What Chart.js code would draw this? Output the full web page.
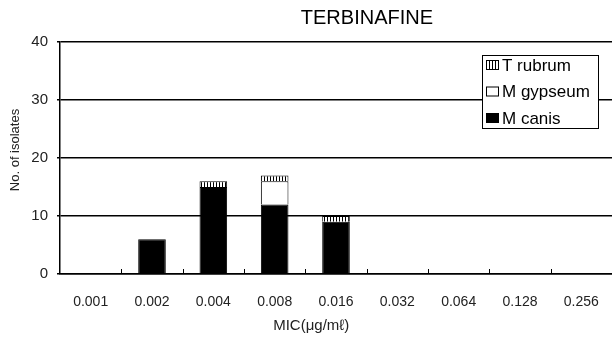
<!DOCTYPE html>
<html>
<head>
<meta charset="utf-8">
<script src="https://cdn.jsdelivr.net/npm/chart.js@4"></script>
<style>
  html, body { margin: 0; padding: 0; background: #fff; }
  #wrap { width: 612px; height: 343px; }
</style>
</head>
<body>
<div id="wrap"><canvas id="chart" width="612" height="343"></canvas></div>
<script>
const micLabels = ["0.001", "0.002", "0.004", "0.008", "0.016", "0.032", "0.064", "0.128", "0.256"];
const mCanis = [0, 6, 15, 12, 9, 0, 0, 0, 0];
const mGypseum = [0, 0, 0, 4, 0, 0, 0, 0, 0];
const tRubrum = [0, 0, 1, 1, 1, 0, 0, 0, 0];
const yTicks = [0, 10, 20, 30, 40];

const FONT = "'Liberation Sans', Arial, sans-serif";

// vertical stripe fill used for T rubrum
function stripes() {
  var c = document.createElement("canvas");
  c.width = 3; c.height = 3;
  var g = c.getContext("2d");
  g.fillStyle = "#fff";
  g.fillRect(0, 0, 3, 3);
  g.fillStyle = "#000";
  g.fillRect(0, 0, 1, 3);
  return g.createPattern(c, "repeat");
}

var ctx = document.getElementById("chart").getContext("2d");
var rubrumFill = stripes();

// titles, small x ticks and the legend box inside the plot
var extras = {
  id: "extras",
  afterDraw: function (chart) {
    var g = chart.ctx, a = chart.chartArea, xs = chart.scales.x;
    g.save();
    g.fillStyle = "#000";
    g.textAlign = "center";
    g.textBaseline = "middle";
    g.font = "20px " + FONT;
    g.fillText("TERBINAFINE", a.left + a.width * 0.556, 18);

    g.fillStyle = "#222";
    g.font = "15px " + FONT;
    g.fillText("MIC(μg/mℓ)", a.left + a.width * 0.455, 326);
    g.save();
    g.translate(15, 150);
    g.rotate(-Math.PI / 2);
    g.font = "13px " + FONT;
    g.fillText("No. of isolates", 0, 0);
    g.restore();

    // short upward ticks between categories
    g.strokeStyle = "#000";
    g.lineWidth = 1;
    var half = (xs.getPixelForValue(1) - xs.getPixelForValue(0)) / 2;
    for (var i = 1; i < micLabels.length; i++) {
      var px = Math.round(xs.getPixelForValue(i) - half) + 0.5;
      g.beginPath();
      g.moveTo(px, a.bottom);
      g.lineTo(px, a.bottom - 5);
      g.stroke();
    }

    var x0 = a.right - 130, y0 = a.top + 13, w = 116, h = 73;
    g.fillStyle = "#fff";
    g.fillRect(x0, y0, w, h);
    g.strokeStyle = "#000";
    g.strokeRect(x0 + 0.5, y0 + 0.5, w, h);
    var items = chart.data.datasets.slice().reverse();
    g.font = "17px " + FONT;
    g.textAlign = "left";
    items.forEach(function (ds, i) {
      var cy = y0 + 10 + i * 26.5;
      g.fillStyle = ds.backgroundColor;
      g.fillRect(x0 + 4, cy - 5, 13, 10);
      g.strokeStyle = "#000";
      g.strokeRect(x0 + 4.5, cy - 4.5, 12, 9);
      g.fillStyle = "#000";
      g.fillText(ds.label, x0 + 20, cy + 1);
    });
    g.restore();
  }
};

new Chart(ctx, {
  type: "bar",
  data: {
    labels: micLabels,
    datasets: [
      { label: "M canis", data: mCanis, backgroundColor: "#000", borderColor: "#000", borderWidth: 1 },
      { label: "M gypseum", data: mGypseum, backgroundColor: "#fff", borderColor: "#000", borderWidth: 1 },
      { label: "T rubrum", data: tRubrum, backgroundColor: rubrumFill, borderColor: "#000", borderWidth: 1 }
    ]
  },
  options: {
    responsive: false,
    animation: false,
    layout: { padding: { top: 42, right: 0, left: 0, bottom: 0 } },
    categoryPercentage: 1,
    barPercentage: 0.45,
    plugins: {
      legend: { display: false },
      tooltip: { enabled: false }
    },
    scales: {
      x: {
        stacked: true,
        afterFit: function (s) { s.height = 69; },
        grid: { display: false },
        border: { color: "#000", width: 1.5 },
        ticks: { color: "#222", padding: 12, font: { family: FONT, size: 14 } }
      },
      y: {
        stacked: true,
        min: 0,
        max: 40,
        afterFit: function (s) { s.width = 60; },
        afterBuildTicks: function (s) { s.ticks = yTicks.map(function (v) { return { value: v }; }); },
        grid: { color: "#000", lineWidth: 1.5, tickLength: 3 },
        border: { color: "#000", width: 1.5 },
        ticks: { color: "#222", padding: 9, font: { family: FONT, size: 15 } }
      }
    }
  },
  plugins: [extras]
});
</script>
</body>
</html>
